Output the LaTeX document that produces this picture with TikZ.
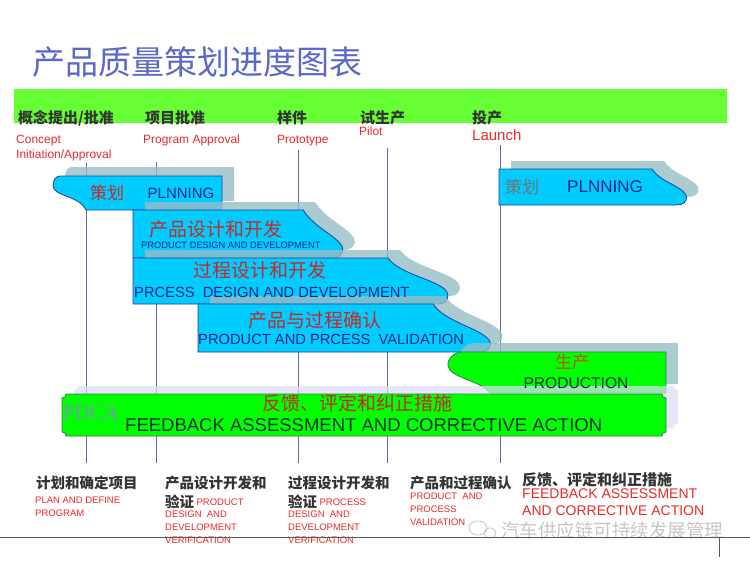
\documentclass[tikz,border=0pt]{standalone}
\usepackage{fontspec}
\setmainfont{Liberation Sans}
\newfontfamily\cjk{Noto Sans CJK SC}
\newfontfamily\pdcafont{Liberation Serif}
\usepackage{tikz}
\usetikzlibrary{positioning}
\definecolor{barGreen}{RGB}{102,255,51}
\definecolor{bandCyan}{RGB}{0,204,255}
\definecolor{bandEdge}{RGB}{31,63,159}
\definecolor{bandGreen}{RGB}{0,255,0}
\definecolor{greenEdge}{RGB}{40,130,70}
\definecolor{shadowGray}{RGB}{150,190,198}
\definecolor{shadowLav}{RGB}{220,220,250}
\definecolor{titleBlue}{RGB}{90,105,200}
\definecolor{labelRed}{RGB}{235,40,40}
\definecolor{cnRed}{RGB}{200,40,40}
\definecolor{textBlue}{RGB}{10,40,140}
\definecolor{gateBlue}{RGB}{100,100,170}
\definecolor{prodOrange}{RGB}{200,80,0}
\definecolor{darkText}{RGB}{10,50,60}
\tikzstyle{band} = [draw=bandEdge, fill=bandCyan, line width=0.8pt]
\tikzstyle{gband} = [draw=greenEdge, fill=bandGreen, line width=0.8pt]
\tikzstyle{shade} = [fill=shadowGray, fill opacity=0.8]
\tikzstyle{gate} = [draw=gateBlue, line width=0.8pt]
\tikzstyle{mile} = [inner sep=0, anchor=west, text=black!80, font=\cjk\bfseries\fontsize{15}{15}\selectfont]
\tikzstyle{mileen} = [inner sep=0, anchor=north west, align=left, text=labelRed, font=\fontsize{12}{15}\selectfont]
\tikzstyle{cntitle} = [inner sep=0, text=cnRed, font=\cjk\fontsize{19}{19}\selectfont]
\tikzstyle{entitle} = [inner sep=0, text=textBlue]
\tikzstyle{note} = [inner sep=0, anchor=west, text=black!80, font=\cjk\bfseries\fontsize{14.5}{14.5}\selectfont]
\tikzstyle{noteen} = [inner sep=0, anchor=north west, align=left, text=labelRed, font=\fontsize{9.5}{12.7}\selectfont]

\begin{document}
\begin{tikzpicture}[x=1pt, y=-1pt]
  \useasboundingbox (0,0) rectangle (750,562);
  % title and milestone bar
  \node [inner sep=0, anchor=west, text=titleBlue, font=\cjk\fontsize{33}{33}\selectfont] (title) at (32,62) {产品质量策划进度图表};
  \fill [barGreen] (14,89) rectangle (727,123);
  \node [mile] (ms1) at (18,118) {概念提出/批准};
  \node [mile] (ms2) at (145,118) {项目批准};
  \node [mile] (ms3) at (277,118) {样件};
  \node [mile] (ms4) at (360,118) {试生产};
  \node [mile] (ms5) at (472,118) {投产};
  \node [mileen] (en1) at (16,135) {Concept\\Initiation/Approval};
  \node [mileen] (en2) at (143,135) {Program Approval};
  \node [mileen] (en3) at (277,135) {Prototype};
  \node [mileen] (en4) at (359,127) {Pilot};
  \node [mileen, font=\fontsize{15}{15}\selectfont] (en5) at (472,129) {Launch};

  % gate lines
  \foreach \gx/\gy [count=\i] in {86/163, 156/162, 298/150, 387/148, 500/145} {
    \coordinate (g\i top) at (\gx,\gy);
    \coordinate (g\i bot) at (\gx,463);
    \draw [gate] (g\i top) -- (g\i bot);
  }

  % bands, each with its shadow
  \fill [shade, shift={(12,-9)}] (60,176) -- (222,176) -- (222,210) -- (86,210) .. controls (80,196) and (53,196) .. (53,186) .. controls (53,180) and (56,176) .. (60,176) -- cycle;
  \draw [band] (60,176) -- (222,176) -- (222,210) -- (86,210) .. controls (80,196) and (53,196) .. (53,186) .. controls (53,180) and (56,176) .. (60,176) -- cycle;
  \fill [shade, shift={(12,-8)}] (133,210) -- (303,210) .. controls (315,228) and (335,235) .. (342,246) .. controls (345,252) and (340,258) .. (333,258) -- (133,258) -- cycle;
  \draw [band] (133,210) -- (303,210) .. controls (315,228) and (335,235) .. (342,246) .. controls (345,252) and (340,258) .. (333,258) -- (133,258) -- cycle;
  \fill [shade, shift={(12,-8)}] (133,258) -- (388,258) .. controls (400,275) and (440,280) .. (447,292) .. controls (450,300) and (445,304) .. (438,304) -- (133,304) -- cycle;
  \draw [band] (133,258) -- (388,258) .. controls (400,275) and (440,280) .. (447,292) .. controls (450,300) and (445,304) .. (438,304) -- (133,304) -- cycle;
  \fill [shade, shift={(12,-8)}] (198,304) -- (433,304) .. controls (445,322) and (480,328) .. (489,340) .. controls (493,347) and (488,352) .. (480,352) -- (198,352) -- cycle;
  \draw [band] (198,304) -- (433,304) .. controls (445,322) and (480,328) .. (489,340) .. controls (493,347) and (488,352) .. (480,352) -- (198,352) -- cycle;
  \fill [shade, shift={(12,-9)}] (462,352) -- (666,352) -- (666,393) -- (490,393) .. controls (480,380) and (450,378) .. (448,366) .. controls (447,358) and (455,352) .. (462,352) -- cycle;
  \draw [gband] (462,352) -- (666,352) -- (666,393) -- (490,393) .. controls (480,380) and (450,378) .. (448,366) .. controls (447,358) and (455,352) .. (462,352) -- cycle;
  \fill [shadowLav, fill opacity=0.7, shift={(12,-8)}] (66,394) -- (662,394) .. controls (662,397) and (663,398) .. (666,398) -- (666,432) .. controls (663,432) and (662,433) .. (662,436) -- (66,436) .. controls (66,433) and (65,432) .. (62,432) -- (62,398) .. controls (65,398) and (66,397) .. (66,394) -- cycle;
  \draw [gband] (66,394) -- (662,394) .. controls (662,397) and (663,398) .. (666,398) -- (666,432) .. controls (663,432) and (662,433) .. (662,436) -- (66,436) .. controls (66,433) and (65,432) .. (62,432) -- (62,398) .. controls (65,398) and (66,397) .. (66,394) -- cycle;
  \fill [shade, shift={(12,-8)}] (499,169) -- (652,169) .. controls (660,182) and (680,185) .. (686,195) .. controls (688,202) and (683,205) .. (676,205) -- (499,205) -- cycle;
  \draw [band] (499,169) -- (652,169) .. controls (660,182) and (680,185) .. (686,195) .. controls (688,202) and (683,205) .. (676,205) -- (499,205) -- cycle;

  % band texts
  \node [cntitle, font=\cjk\fontsize{17}{17}\selectfont] (planCn) at (107,193) {策划};
  \node [entitle, font=\fontsize{15}{15}\selectfont] (planEn) at (181,193) {PLNNING};
  \node [cntitle] (pdCn) at (216,229) {产品设计和开发};
  \node [entitle, anchor=west, font=\fontsize{9.3}{9.3}\selectfont] (pdEn) at (141,245) {PRODUCT DESIGN AND DEVELOPMENT};
  \node [cntitle] (prCn) at (260,270) {过程设计和开发};
  \node [entitle, anchor=west, font=\fontsize{14.7}{14.7}\selectfont] (prEn) at (134,292) {PRCESS\ \ DESIGN AND DEVELOPMENT};
  \node [cntitle] (vaCn) at (315,320) {产品与过程确认};
  \node [entitle, anchor=west, font=\fontsize{14.7}{14.7}\selectfont] (vaEn) at (198,339) {PRODUCT AND PRCESS\ \ VALIDATION};
  \node [cntitle, text=prodOrange, font=\cjk\fontsize{17}{17}\selectfont] (prodCn) at (572,362) {生产};
  \node [entitle, text=darkText, font=\fontsize{15.6}{15.6}\selectfont] (prodEn) at (576,383) {PRODUCTION};
  \node [inner sep=0, anchor=west, text={rgb,255:red,120;green,150;blue,190}, font=\pdcafont\fontsize{21}{21}\selectfont] (pdca) at (63,413) {PDCA};
  \node [cntitle] (fbCn) at (357,403) {反馈、评定和纠正措施};
  \node [entitle, anchor=west, text=darkText, font=\fontsize{18.5}{18.5}\selectfont] (fbEn) at (125,425) {FEEDBACK ASSESSMENT AND CORRECTIVE ACTION};
  \node [cntitle, text=gray!90!black, font=\cjk\fontsize{17}{17}\selectfont] (plan2Cn) at (522,187) {策划};
  \node [entitle, font=\fontsize{17}{17}\selectfont] (plan2En) at (605,187) {PLNNING};

  % notes under the chart
  \node [note] (n1) at (36,483) {计划和确定项目};
  \node [noteen] (n1en) at (35,497) {PLAN AND DEFINE\\PROGRAM};
  \node [note] (n2) at (165,483) {产品设计开发和};
  \node [note] (n2b) at (165,502) {验证};
  \node [noteen, anchor=west, right=2pt of n2b] (n2en) {PRODUCT};
  \node [noteen] (n2more) at (165,511) {DESIGN\ \ AND\\DEVELOPMENT\\VERIFICATION};
  \node [note] (n3) at (288,483) {过程设计开发和};
  \node [note] (n3b) at (288,502) {验证};
  \node [noteen, anchor=west, right=2pt of n3b] (n3en) {PROCESS};
  \node [noteen] (n3more) at (288,511) {DESIGN\ \ AND\\DEVELOPMENT\\VERIFICATION};
  \node [note] (n4) at (410,483) {产品和过程确认};
  \node [noteen] (n4en) at (410,493) {PRODUCT\ \ AND\\PROCESS\\VALIDATION};
  \node [note, font=\cjk\bfseries\fontsize{15}{15}\selectfont] (n5) at (522,480) {反馈、评定和纠正措施};
  \node [noteen, font=\fontsize{14}{16.5}\selectfont] (n5en) at (522,489) {FEEDBACK ASSESSMENT\\AND CORRECTIVE ACTION};

  % watermark
  \draw [gray!45, line width=0.8pt] (478,528) ellipse (9 and 7) (490,533) ellipse (6 and 5);
  \node [inner sep=0, anchor=west, text=gray!45, font=\cjk\fontsize{18.5}{18.5}\selectfont] (mark) at (501,530) {汽车供应链可持续发展管理};

  % base rule
  \coordinate (baseL) at (0,537);
  \coordinate (baseR) at (750,537);
  \coordinate (tickT) at (719,537);
  \coordinate (tickB) at (719,557);
  \draw [black!65, line width=0.8pt] (baseL) -- (baseR);
  \draw [black!65, line width=0.8pt] (tickT) -- (tickB);
\end{tikzpicture}
\end{document}
